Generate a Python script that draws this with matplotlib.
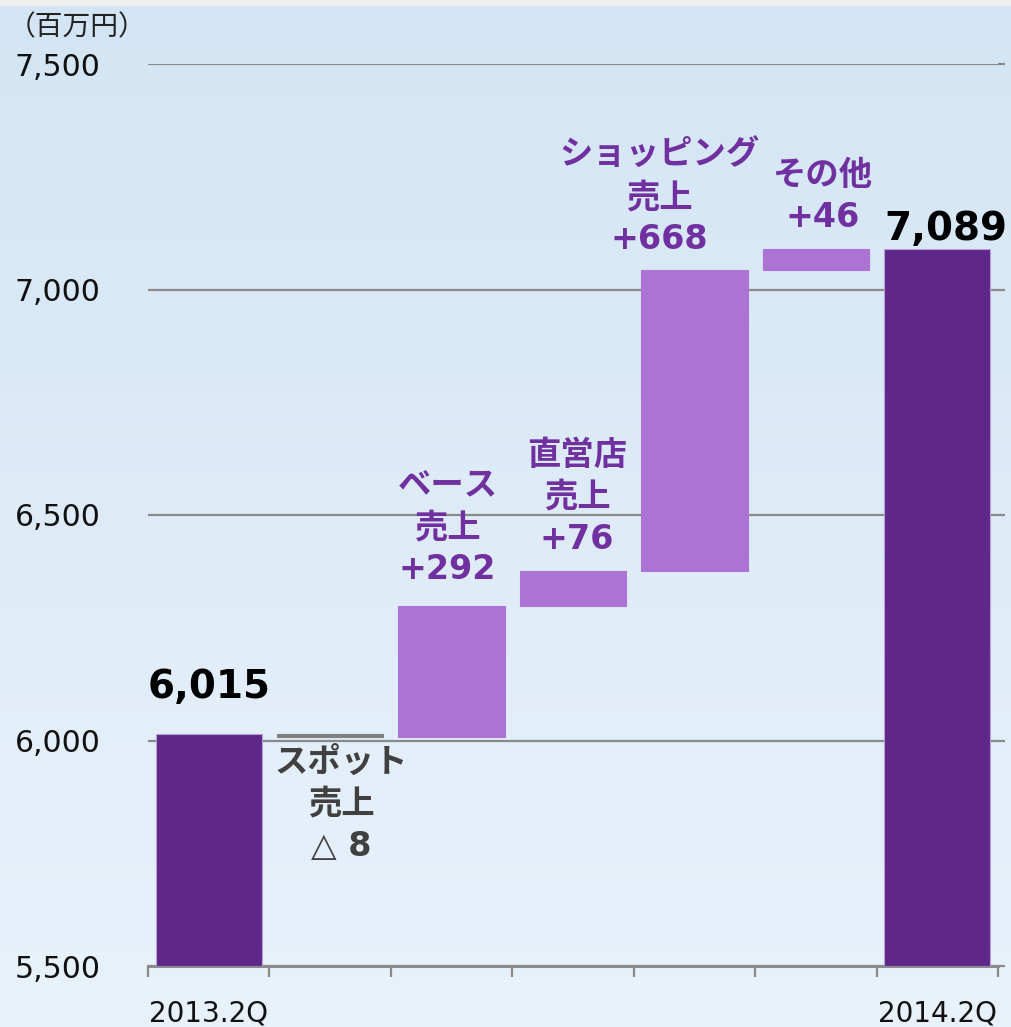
import numpy as np
import matplotlib
matplotlib.use("Agg")
import matplotlib.pyplot as plt
import matplotlib.transforms as mtransforms
from matplotlib.colors import LinearSegmentedColormap

# ---- data ----
categories = ["2013.2Q", "スポット", "ベース", "直営店", "ショッピング", "その他", "2014.2Q"]
start_value = 6015
changes = [-8, 292, 76, 668, 46]
end_value = 7089
change_labels = ["スポット\n売上\n△ 8", "ベース\n売上\n+292", "直営店\n売上\n+76",
                 "ショッピング\n売上\n+668", "その他\n+46"]
total_labels = ["6,015", "7,089"]
xtick_labels = ["2013.2Q", "", "", "", "", "", "2014.2Q"]
yticks = [5500, 6000, 6500, 7000, 7500]
ytick_labels = ["5,500", "6,000", "6,500", "7,000", "7,500"]

DARK = "#5f2789"
LIGHT = "#aa73d4"
GRAY = "#808080"
LABEL_PURPLE = "#7030a0"
JP = ["DejaVu Sans", "Noto Sans CJK JP"]

W, H = 1011, 1027
fig = plt.figure(figsize=(W / 100, H / 100), dpi=100)

# background gradient
bg = fig.add_axes([0, 0, 1, 1], zorder=-10)
cmap = LinearSegmentedColormap.from_list("bg", ["#e9f2fb", "#d3e5f4"])
grad = np.linspace(0, 1, 256).reshape(-1, 1)
bg.imshow(grad, aspect="auto", cmap=cmap, origin="lower", extent=[0, 1, 0, 1])
bg.add_patch(plt.Rectangle((0, 1 - 5 / H), 1, 5 / H, color="#f0f0f0"))
bg.set_xlim(0, 1); bg.set_ylim(0, 1)
bg.axis("off")

left, right = 148 / W, 998 / W
bottom, top = (H - 966) / H, (H - 64) / H
ax = fig.add_axes([left, bottom, right - left, top - bottom])
ax.set_facecolor("none")

x = np.arange(len(categories))
width = 0.875

# waterfall computation
levels = [start_value]
for c in changes:
    levels.append(levels[-1] + c)
bottoms = [5500]
heights = [start_value - 5500]
colors = [DARK]
for i, c in enumerate(changes):
    prev = levels[i]
    bottoms.append(min(prev, prev + c))
    heights.append(abs(c))
    colors.append(GRAY if c < 0 else LIGHT)
bottoms.append(5500)
heights.append(end_value - 5500)
colors.append(DARK)

ax.bar(x, heights, bottom=bottoms, width=width, color=colors, zorder=3,
       edgecolor=["#b9a0d4" if c == DARK else c for c in colors], linewidth=0.8)

ax.set_xlim(-0.5, len(categories) - 0.5)
ax.set_ylim(5500, 7500)
ax.set_yticks(yticks)
ax.set_yticklabels(ytick_labels, fontsize=21.5, color="#111111", family="DejaVu Sans")
shift = mtransforms.ScaledTranslation(0, 5 / 100, fig.dpi_scale_trans)
for lbl in ax.get_yticklabels():
    lbl.set_verticalalignment("center_baseline")
    lbl.set_transform(lbl.get_transform() + shift)
ax.yaxis.grid(True, color="#8a8a8a", linewidth=1.6, zorder=1)
ax.set_axisbelow(True)
ax.tick_params(axis="y", which="major", left=False, right=True, direction="out",
               length=5, width=1.6, color="#8a8a8a", pad=29)
ax.yaxis.set_tick_params(labelleft=True, labelright=False)

ax.set_xticks(x)
ax.set_xticklabels(xtick_labels, fontsize=20, color="#111111", family="DejaVu Sans")
ax.set_xticks(np.arange(len(categories) + 1) - 0.5, minor=True)
ax.tick_params(axis="x", which="major", length=0, pad=24)
ax.tick_params(axis="x", which="minor", length=8, width=1.6, color="#8a8a8a", direction="out")

for s in ["top", "right", "left"]:
    ax.spines[s].set_visible(False)
ax.spines["bottom"].set_color("#8a8a8a")
ax.spines["bottom"].set_linewidth(2.2)

# total labels
ax.annotate(total_labels[0], (x[0], start_value), xytext=(0, 20), textcoords="offset points",
            ha="center", va="bottom", fontsize=28, fontweight="bold", color="#000000",
            family="DejaVu Sans", zorder=5)
ax.annotate(total_labels[1], (x[-1], end_value), xytext=(6, 1), textcoords="offset points",
            ha="center", va="bottom", fontsize=28, fontweight="bold", color="#000000",
            family="DejaVu Sans", zorder=5, annotation_clip=False)

# change labels
x_offsets = [8, -3, 3, -25, 5]
y_offsets = [-6, 14, 11, 10, 11]
for i, c in enumerate(changes):
    xi = x[i + 1]
    if c < 0:
        ax.annotate(change_labels[i], (xi, levels[i + 1]), xytext=(x_offsets[i], y_offsets[i]),
                    textcoords="offset points", ha="center", va="top", fontsize=24,
                    fontweight="bold", color="#404040", family=JP, linespacing=1.35,
                    multialignment="center", zorder=5)
    else:
        ax.annotate(change_labels[i], (xi, levels[i + 1]), xytext=(x_offsets[i], y_offsets[i]),
                    textcoords="offset points", ha="center", va="bottom", fontsize=24,
                    fontweight="bold", color=LABEL_PURPLE, family=JP, linespacing=1.35,
                    multialignment="center", zorder=5)

fig.text(8 / W, 1 - 27 / H, "（百万円）", fontsize=20, color="#222222",
         family=["Noto Sans CJK JP", "DejaVu Sans"], va="center", ha="left")

fig.savefig("out.png", dpi=100)
